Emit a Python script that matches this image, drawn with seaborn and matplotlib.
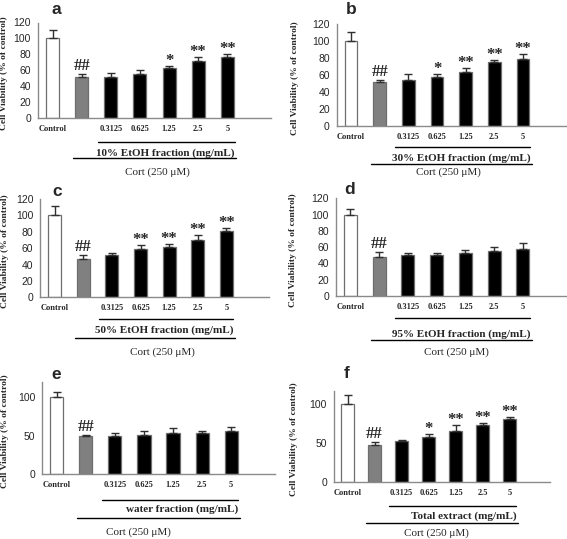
import numpy as np
import pandas as pd
import seaborn as sb
import matplotlib
matplotlib.use("Agg")
import matplotlib.pyplot as plt
from matplotlib import transforms

# categories (second bar is Cort alone, no tick label)
groups = ["Control", "Cort", "0.3125", "0.625", "1.25", "2.5", "5"]
tick_labels = ["Control", "", "0.3125", "0.625", "1.25", "2.5", "5"]
bar_colors = ["#ffffff", "#808080", "#000000", "#000000", "#000000", "#000000", "#000000"]

# values (% of control), upper error bars, significance marks
a_mean = [100, 52, 52, 55, 62.5, 72, 76.5]
a_err = [10.5, 3, 5, 5, 3.5, 5, 4.5]
a_sig = ["", "##", "", "", "*", "**", "**"]

b_mean = [100, 52, 54, 58, 63.5, 75, 78.5]
b_err = [10, 2.5, 7.5, 3, 5, 3, 6.5]
b_sig = ["", "##", "", "*", "**", "**", "**"]

c_mean = [100.5, 47, 51.5, 58.5, 61.5, 70.5, 80.5]
c_err = [11, 5, 3, 5, 4, 5, 4]
c_sig = ["", "##", "", "**", "**", "**", "**"]

d_mean = [100, 48, 50, 50, 52.5, 55, 57.5]
d_err = [6.5, 5.5, 3, 3, 4.5, 5, 7.5]
d_sig = ["", "##", "", "", "", "", ""]

e_mean = [100, 50, 50, 51, 54, 54, 56]
e_err = [7, 1, 4, 5, 5.5, 2.5, 5]
e_sig = ["", "##", "", "", "", "", ""]

f_mean = [100.5, 47, 52.5, 58, 65, 73, 80.5]
f_err = [11, 4.5, 1.5, 3.5, 8, 3, 3]
f_sig = ["", "##", "", "*", "**", "**", "**"]

fractions = ["10% EtOH fraction (mg/mL)", "30% EtOH fraction (mg/mL)",
             "50% EtOH fraction (mg/mL)", "95% EtOH fraction (mg/mL)",
             "water fraction (mg/mL)", "Total extract (mg/mL)"]
panel_tags = ["a", "b", "c", "d", "e", "f"]
means = [a_mean, b_mean, c_mean, d_mean, e_mean, f_mean]
errs = [a_err, b_err, c_err, d_err, e_err, f_err]
sigs = [a_sig, b_sig, c_sig, d_sig, e_sig, f_sig]
yticks_fine = [0, 20, 40, 60, 80, 100, 120]
yticks_coarse = [0, 50, 100]

# layout in pixels: axes box (left, top, right, bottom), tag centre, ylabel x,
# offsets below the x axis for line1 / fraction text / line2 / Cort text, Cort text x
W, H = 567, 539
layout = [
    dict(box=(38, 22.5, 271, 118.3), tag=(56.7, 9.5), ylab=8.5, off=(23.4, 34.4, 39.7, 53.4), cort=3.6, ymax=120, fine=True),
    dict(box=(336.7, 24, 566, 125.7), tag=(351, 10), ylab=299, off=(21, 32.3, 38.3, 46.5), cort=3.4, ymax=120, fine=True),
    dict(box=(40.4, 199, 269.2, 297.3), tag=(56.7, 191), ylab=8.5, off=(22, 32.7, 40.7, 54.4), cort=3.75, ymax=120, fine=True),
    dict(box=(336, 198.3, 566, 296), tag=(350, 189), ylab=297, off=(22.3, 38, 44, 55.7), cort=3.7, ymax=120, fine=True),
    dict(box=(42.2, 381.7, 274.8, 474.3), tag=(56, 374.5), ylab=9, off=(25.7, 34.7, 44, 58), cort=2.8, ymax=120, fine=False),
    dict(box=(334, 391.1, 550, 481.7), tag=(346.5, 374), ylab=298, off=(24.3, 34.3, 41.6, 51.6), cort=3.3, ymax=117, fine=False),
]

serif = "Liberation Serif"
sans = "Liberation Sans"

sb.set_style("white")
plt.rcParams["font.family"] = [sans, "DejaVu Sans"]

fig = plt.figure(figsize=(W / 100, H / 100), dpi=100)

for k in range(6):
    lay = layout[k]
    l, t, r, b = lay["box"]
    ax = fig.add_axes([l / W, 1 - b / H, (r - l) / W, (b - t) / H])
    hpx = b - t
    df = pd.DataFrame({"group": groups, "value": means[k], "err": errs[k]})

    sb.barplot(data=df, x="group", y="value", hue="group", palette=bar_colors,
               order=groups, hue_order=groups, legend=False, width=0.45,
               edgecolor="#6e6e6e", linewidth=0.9, errorbar=None, ax=ax)
    x = np.arange(len(groups))
    ax.errorbar(x, df["value"], yerr=[np.zeros(len(x)), df["err"]], fmt="none",
                ecolor="#303030", elinewidth=1, capsize=3, capthick=1)

    ax.set_xlim(-0.5, 7.5)
    ax.set_ylim(0, lay["ymax"])
    ax.set_yticks(yticks_fine if lay["fine"] else yticks_coarse)
    ax.set_xticks(x)
    ax.set_xticklabels(tick_labels, family=serif, fontsize=6, fontweight="bold")
    ax.tick_params(axis="x", length=0, pad=5)
    ax.tick_params(axis="y", length=3, width=0.9, color="#808080", direction="out",
                   labelsize=7.5, pad=2)
    ax.set_xlabel("")
    ax.set_ylabel("Cell Viability (% of control)", family=serif, fontsize=6.8,
                  fontweight="bold")
    ax.yaxis.set_label_coords((lay["ylab"] - l) / (r - l), 0.47)
    for s in ["top", "right"]:
        ax.spines[s].set_visible(False)
    for s in ["left", "bottom"]:
        ax.spines[s].set_color("#8a8a8a")
        ax.spines[s].set_linewidth(1)

    # significance marks above error bars
    for i, s in enumerate(sigs[k]):
        if not s:
            continue
        lift = 4 if s.startswith("#") else 1
        ax.annotate(s, xy=(i, means[k][i] + errs[k][i]), xytext=(0, lift * 0.72),
                    textcoords="offset points", ha="center", va="baseline",
                    family=serif, fontsize=12, fontweight="bold")

    # group lines and labels under the axis
    blend = transforms.blended_transform_factory(ax.transData, ax.transAxes)
    o1, of, o2, oc = lay["off"]
    ax.plot([1.55, 6.25], [-o1 / hpx] * 2, color="black", lw=1, transform=blend, clip_on=False)
    ax.text(6.25, -of / hpx, fractions[k], transform=blend, ha="right", va="center",
            family=serif, fontsize=8, fontweight="bold")
    ax.plot([0.7, 6.3], [-o2 / hpx] * 2, color="black", lw=1, transform=blend, clip_on=False)
    ax.text(lay["cort"], -oc / hpx, "Cort (250 \u03bcM)", transform=blend, ha="center",
            va="center", family=serif, fontsize=8)

    tx, ty = lay["tag"]
    fig.text(tx / W, 1 - ty / H, panel_tags[k], ha="center", va="center",
             fontsize=12.5, fontweight="bold")

fig.savefig("out.png", dpi=100)
